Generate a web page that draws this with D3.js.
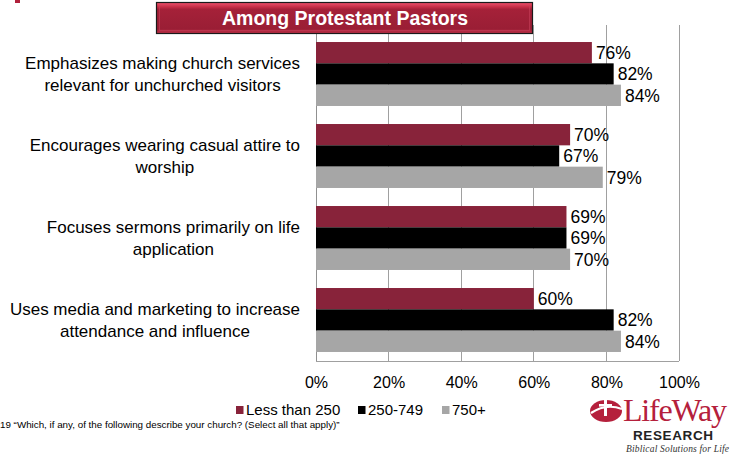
<!DOCTYPE html>
<html>
<head>
<meta charset="utf-8">
<script src="https://cdn.jsdelivr.net/npm/d3@7"></script>
<style>
  html, body { margin: 0; padding: 0; background: #fff; }
  svg { display: block; font-family: Arial, "Liberation Sans", sans-serif; }
</style>
</head>
<body>
<svg id="chart" width="730" height="455"></svg>
<script>
// Survey items (two-line labels)
const categories = [
  ["Emphasizes making church services", "relevant for unchurched visitors"],
  ["Encourages wearing casual attire to", "worship"],
  ["Focuses sermons primarily on life", "application"],
  ["Uses media and marketing to increase", "attendance and influence"]
];
// Church size groups
const seriesNames = ["Less than 250", "250-749", "750+"];
const seriesColors = ["#88233a", "#000000", "#a6a6a6"];
// Percent of pastors agreeing, per church size
const lessThan250 = [76, 70, 69, 60];
const from250to749 = [82, 67, 69, 82];
const over750 = [84, 79, 70, 84];
const tickValues = [0, 20, 40, 60, 80, 100];

const seriesValues = [lessThan250, from250to749, over750];

const svg = d3.select("#chart");
const plot = { left: 316, right: 679, top: 33, bottom: 361 };

const x = d3.scaleLinear().domain([0, 100]).range([plot.left, plot.right]);
const y0 = d3.scaleBand().domain(d3.range(categories.length))
  .range([plot.top, plot.bottom]).paddingInner(0.22).paddingOuter(0.11);
const y1 = d3.scaleBand().domain(d3.range(seriesNames.length))
  .range([0, y0.bandwidth()]);

// vertical gridlines
svg.append("g").selectAll("line").data(tickValues.slice(1))
  .join("line")
  .attr("x1", d => x(d)).attr("x2", d => x(d))
  .attr("y1", plot.top - 8).attr("y2", plot.bottom)
  .attr("stroke", "#a0a0a0").attr("stroke-width", 1).attr("shape-rendering", "crispEdges");

// left axis and bottom edge
svg.append("line").attr("x1", plot.left).attr("x2", plot.left)
  .attr("y1", plot.top - 8).attr("y2", plot.bottom)
  .attr("stroke", "#909090").attr("shape-rendering", "crispEdges");
svg.append("line").attr("x1", plot.left).attr("x2", plot.right)
  .attr("y1", plot.bottom).attr("y2", plot.bottom)
  .attr("stroke", "#a0a0a0").attr("shape-rendering", "crispEdges");

// bars
const groups = svg.append("g").selectAll("g").data(categories)
  .join("g").attr("transform", (d, i) => `translate(0,${y0(i)})`);

groups.selectAll("rect")
  .data((d, i) => seriesValues.map((vals, s) => ({ s, v: vals[i] })))
  .join("rect")
  .attr("x", x(0))
  .attr("y", d => y1(d.s))
  .attr("width", d => x(d.v) - x(0))
  .attr("height", y1.bandwidth())
  .attr("fill", d => seriesColors[d.s]);

groups.selectAll("text.val")
  .data((d, i) => seriesValues.map((vals, s) => ({ s, v: vals[i] })))
  .join("text").attr("class", "val")
  .attr("x", d => x(d.v) + 4)
  .attr("y", d => y1(d.s) + y1.bandwidth() / 2)
  .attr("dy", "0.36em")
  .attr("font-size", 17.5).attr("fill", "#000")
  .text(d => d.v + "%");

// category labels, centred lines whose widest line ends at x=300
const labels = svg.append("g").selectAll("text").data(categories)
  .join("text")
  .attr("text-anchor", "middle")
  .attr("font-size", 17).attr("fill", "#000")
  .attr("y", (d, i) => y0(i) + y0.bandwidth() / 2);
labels.each(function (lines) {
  const t = d3.select(this);
  lines.forEach((ln, k) => {
    t.append("tspan").attr("x", 161)
      .attr("dy", k === 0 ? "-0.3em" : "1.3em")
      .text(ln);
  });
});
labels.each(function () {
  const t = d3.select(this);
  const tspans = t.selectAll("tspan").nodes();
  const maxW = d3.max(tspans, n => n.getComputedTextLength());
  t.selectAll("tspan").attr("x", 300 - maxW / 2);
});

// x tick labels
const xAxis = d3.axisBottom(x).tickValues(tickValues).tickSize(0).tickFormat(d => d + "%");
const gx = svg.append("g").attr("transform", `translate(0,${plot.bottom})`).call(xAxis);
gx.select(".domain").remove();
gx.selectAll("text").attr("font-size", 16).attr("fill", "#000")
  .attr("font-family", "Arial, 'Liberation Sans', sans-serif").attr("dy", "1.5em");

// legend
const legendX = [236, 358, 442];
const legend = svg.append("g").selectAll("g").data(seriesNames)
  .join("g").attr("transform", (d, i) => `translate(${legendX[i]},410)`);
legend.append("rect").attr("x", 0).attr("y", -4).attr("width", 7.5).attr("height", 8)
  .attr("fill", (d, i) => seriesColors[i]);
legend.append("text").attr("x", 10).attr("dy", "0.36em")
  .attr("font-size", 15).text(d => d);

// title banner
const defs = svg.append("defs");
const grad = defs.append("linearGradient").attr("id", "banner").attr("x1", 0).attr("x2", 0).attr("y1", 0).attr("y2", 1);
[[0, "#ec5470"], [0.1, "#d8364f"], [0.22, "#a52139"], [0.85, "#9a1e35"], [1, "#c23249"]]
  .forEach(([o, c]) => grad.append("stop").attr("offset", o).attr("stop-color", c));
svg.append("rect").attr("x", 156.5).attr("y", 2.5).attr("width", 376).attr("height", 31)
  .attr("fill", "url(#banner)").attr("stroke", "#1a1a1a").attr("stroke-width", 1.2);
svg.append("rect").attr("x", 159.5).attr("y", 5.5).attr("width", 370).attr("height", 25)
  .attr("fill", "none").attr("stroke", "#c8405a").attr("stroke-width", 1).attr("opacity", 0.6);
svg.append("text").attr("x", 345).attr("y", 25).attr("text-anchor", "middle")
  .attr("font-size", 19.5).attr("font-weight", "bold").attr("fill", "#fff")
  .text("Among Protestant Pastors");

// small corner mark
svg.append("rect").attr("x", 15).attr("y", 0).attr("width", 5).attr("height", 3).attr("fill", "#b0213b");

// footnote
svg.append("text").attr("x", 0).attr("y", 428).attr("font-size", 9.8).attr("fill", "#000")
  .text("19 \u201CWhich, if any, of the following describe your church? (Select all that apply)\u201D");

// LifeWay Research mark
const logo = svg.append("g");
logo.append("ellipse").attr("cx", 606).attr("cy", 411).attr("rx", 16).attr("ry", 11).attr("fill", "#b5203c");
logo.append("path").attr("d", "M591,413 Q606,403 622,409").attr("fill", "none").attr("stroke", "#fff").attr("stroke-width", 2.2);
logo.append("rect").attr("x", 604).attr("y", 400).attr("width", 3).attr("height", 16).attr("fill", "#fff");
logo.append("rect").attr("x", 599).attr("y", 404).attr("width", 13).attr("height", 2.6).attr("fill", "#fff");
logo.append("text").attr("x", 623).attr("y", 421).attr("font-family", "'Liberation Serif', 'DejaVu Serif', serif")
  .attr("font-size", 32).attr("fill", "#b5203c").attr("textLength", 104).text("LifeWay");
logo.append("text").attr("x", 633).attr("y", 440).attr("font-family", "Arial, 'Liberation Sans', sans-serif")
  .attr("font-size", 13.5).attr("font-weight", "bold").attr("fill", "#222").attr("textLength", 80).text("RESEARCH");
logo.append("text").attr("x", 626).attr("y", 452).attr("font-family", "'Liberation Serif', 'DejaVu Serif', serif")
  .attr("font-size", 9.5).attr("font-style", "italic").attr("fill", "#333").attr("textLength", 103).text("Biblical Solutions for Life");
</script>
</body>
</html>
